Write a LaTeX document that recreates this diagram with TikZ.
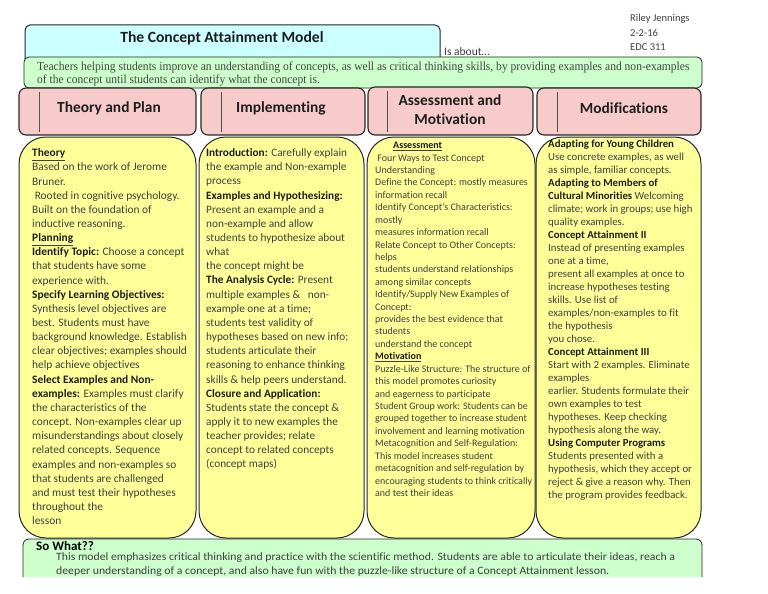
\documentclass[tikz,border=0pt]{standalone}
\usepackage{fontspec}
\setmainfont{Carlito}[Ligatures=NoCommon]
\newfontfamily\serifnarrow[FakeStretch=0.94]{Liberation Serif}
\newfontfamily\carlitowide[FakeStretch=1.05,Ligatures=NoCommon]{Carlito}
\definecolor{cyanfill}{HTML}{CCFFFF}
\definecolor{greenfill}{HTML}{CCFFCC}
\definecolor{pinkfill}{HTML}{F8CBCB}
\definecolor{yellowfill}{HTML}{FFFF99}
\definecolor{bodytext}{HTML}{404040}
\definecolor{darktext}{HTML}{1E1E1E}
\definecolor{edge}{HTML}{262626}
\tikzset{
  titlebox/.style={fill=cyanfill, draw=edge, line width=1pt, rounded corners=5pt},
  aboutbox/.style={fill=greenfill, draw=edge, line width=0.8pt, rounded corners=5pt},
  headbox/.style={fill=pinkfill, draw=edge, line width=1.1pt, rounded corners=7pt},
  headbar/.style={draw=edge!80, line width=0.8pt},
  colbox/.style={fill=yellowfill, draw=edge, line width=1pt, rounded corners=27pt},
  headtext/.style={font=\fontsize{15.4}{19}\selectfont\bfseries, text=darktext, align=center, inner sep=0pt},
  coltext/.style={anchor=north west, inner sep=0pt, align=left, text=bodytext},
  plain/.style={inner sep=0pt, text=bodytext},
}
\newcommand{\hd}[1]{\textbf{\color{darktext}#1}}
\newcommand{\uhd}[1]{\underline{\textbf{\color{darktext}#1}}}
\begin{document}
\begin{tikzpicture}[x=1pt,y=-1pt]
\useasboundingbox (0,0) rectangle (768,594);
% author block
\begin{scope}
\clip (600,14) rectangle (720,60);
\node[plain, anchor=north west, align=left, font=\fontsize{10.5}{14.3}\selectfont] (author) at (630,14.5)
  {Riley Jennings\\2-2-16\\EDC 311};
\end{scope}
% title
\draw[titlebox] (25,25) rectangle (440,72);
\node[inner sep=0pt, font=\fontsize{15.6}{18}\selectfont\bfseries, text=darktext] (title) at (222,38) {The Concept Attainment Model};
\node[plain, anchor=west, font=\fontsize{11.5}{14}\selectfont] (isabout) at (444,52) {Is about…};
% about box
\draw[aboutbox] (24,57) rectangle (702,88);
\node[plain, anchor=north west, align=left, text=black!72, font=\fontsize{12.3}{13}\serifnarrow] (about) at (37,61.5)
  {Teachers helping students improve an understanding of concepts, as well as critical thinking skills, by providing examples and non-examples\\
   of the concept until students can identify what the concept is.};
% headers
\draw[headbox] (19,88) rectangle (196,135);
\draw[headbar] (39,92) -- (39,132);
\node[headtext] (h1) at (109,108) {Theory and Plan};
\draw[headbox] (201,88) rectangle (365,135);
\draw[headbar] (221,92) -- (221,132);
\node[headtext] (h2) at (281,108) {Implementing};
\draw[headbox] (368,87) rectangle (533,135);
\draw[headbar] (387,91) -- (387,132);
\node[headtext, font=\fontsize{15.4}{19}\selectfont\bfseries] (h3) at (450,110) {Assessment and\\Motivation};
\draw[headbox] (537,88) rectangle (701,135);
\draw[headbar] (557,92) -- (557,132);
\node[headtext] (h4) at (624,108) {Modifications};
% columns
\draw[colbox] (19,137) rectangle (196,538);
\draw[colbox] (199,137) rectangle (364,538);
\draw[colbox] (367,137) rectangle (535,538);
\draw[colbox] (536,137) rectangle (701,538);
\node[coltext, font=\fontsize{11.4}{14.15}\selectfont] (c1) at (32,148.5) {%
\uhd{Theory}\\
Based on the work of Jerome\\
Bruner.\\
\ Rooted in cognitive psychology.\\
Built on the foundation of\\
inductive reasoning.\\
\uhd{Planning}\\
\hd{Identify Topic:} Choose a concept\\
that students have some\\
experience with.\\
\hd{Specify Learning Objectives:}\\
Synthesis level objectives are\\
best. Students must have\\
background knowledge. Establish\\
clear objectives; examples should\\
help achieve objectives\\
\hd{Select Examples and Non-}\\
\hd{examples:} Examples must clarify\\
the characteristics of the\\
concept. Non-examples clear up\\
misunderstandings about closely\\
related concepts. Sequence\\
examples and non-examples so\\
that students are challenged\\
and must test their hypotheses\\
throughout the\\
lesson};
\node[coltext, font=\fontsize{11.3}{14.15}\selectfont] (c2) at (206,148.5) {%
\hd{Introduction:} Carefully explain\\
the example and Non-example\\
process\\
\hd{Examples and Hypothesizing:}\\
Present an example and a\\
non-example and allow\\
students to hypothesize about\\
what\\
the concept might be\\
\hd{The Analysis Cycle:} Present\\
multiple examples \&\ \ \ non-\\
example one at a time;\\
students test validity of\\
hypotheses based on new info;\\
students articulate their\\
reasoning to enhance thinking\\
skills \& help peers understand.\\
\hd{Closure and Application:}\\
Students state the concept \&\\
apply it to new examples the\\
teacher provides; relate\\
concept to related concepts\\
(concept maps)};
\node[coltext, font=\fontsize{10}{12.42}\selectfont] (c3) at (375,142) {%
\hspace{18pt}\uhd{Assessment}\\
\ Four Ways to Test Concept\\
Understanding\\
Define the Concept: mostly measures\\
information recall\\
Identify Concept’s Characteristics:\\
mostly\\
measures information recall\\
Relate Concept to Other Concepts:\\
helps\\
students understand relationships\\
among similar concepts\\
Identify/Supply New Examples of\\
Concept:\\
provides the best evidence that\\
students\\
understand the concept\\
\uhd{Motivation}\\
Puzzle-Like Structure: The structure of\\
this model promotes curiosity\\
and eagerness to participate\\
Student Group work: Students can be\\
grouped together to increase student\\
involvement and learning motivation\\
Metacognition and Self-Regulation:\\
This model increases student\\
metacognition and self-regulation by\\
encouraging students to think critically\\
and test their ideas};
\node[coltext, font=\fontsize{10.8}{13.02}\selectfont] (c4) at (548,139.5) {%
\hd{Adapting for Young Children}\\
Use concrete examples, as well\\
as simple, familiar concepts.\\
\hd{Adapting to Members of}\\
\hd{Cultural Minorities} Welcoming\\
climate; work in groups; use high\\
quality examples.\\
\hd{Concept Attainment II}\\
Instead of presenting examples\\
one at a time,\\
present all examples at once to\\
increase hypotheses testing\\
skills. Use list of\\
examples/non-examples to fit\\
the hypothesis\\
you chose.\\
\hd{Concept Attainment III}\\
Start with 2 examples. Eliminate\\
examples\\
earlier. Students formulate their\\
own examples to test\\
hypotheses. Keep checking\\
hypothesis along the way.\\
\hd{Using Computer Programs}\\
Students presented with a\\
hypothesis, which they accept or\\
reject \& give a reason why. Then\\
the program provides feedback.};
% so what box
\path[fill=greenfill, draw=edge, line width=0.8pt, rounded corners=6pt] (23,577) -- (23,539) -- (702,539) -- (702,577);
\node[inner sep=0pt, anchor=west, font=\fontsize{13}{15}\selectfont\bfseries, text=black] (sowhat) at (36,545.5) {So What??};
\node[coltext, font=\fontsize{11.2}{14}\carlitowide] (sw) at (56,552.5) {%
This model emphasizes critical thinking and practice with the scientific method. Students are able to articulate their ideas, reach a\\
deeper understanding of a concept, and also have fun with the puzzle-like structure of a Concept Attainment lesson.};
\end{tikzpicture}
\end{document}
